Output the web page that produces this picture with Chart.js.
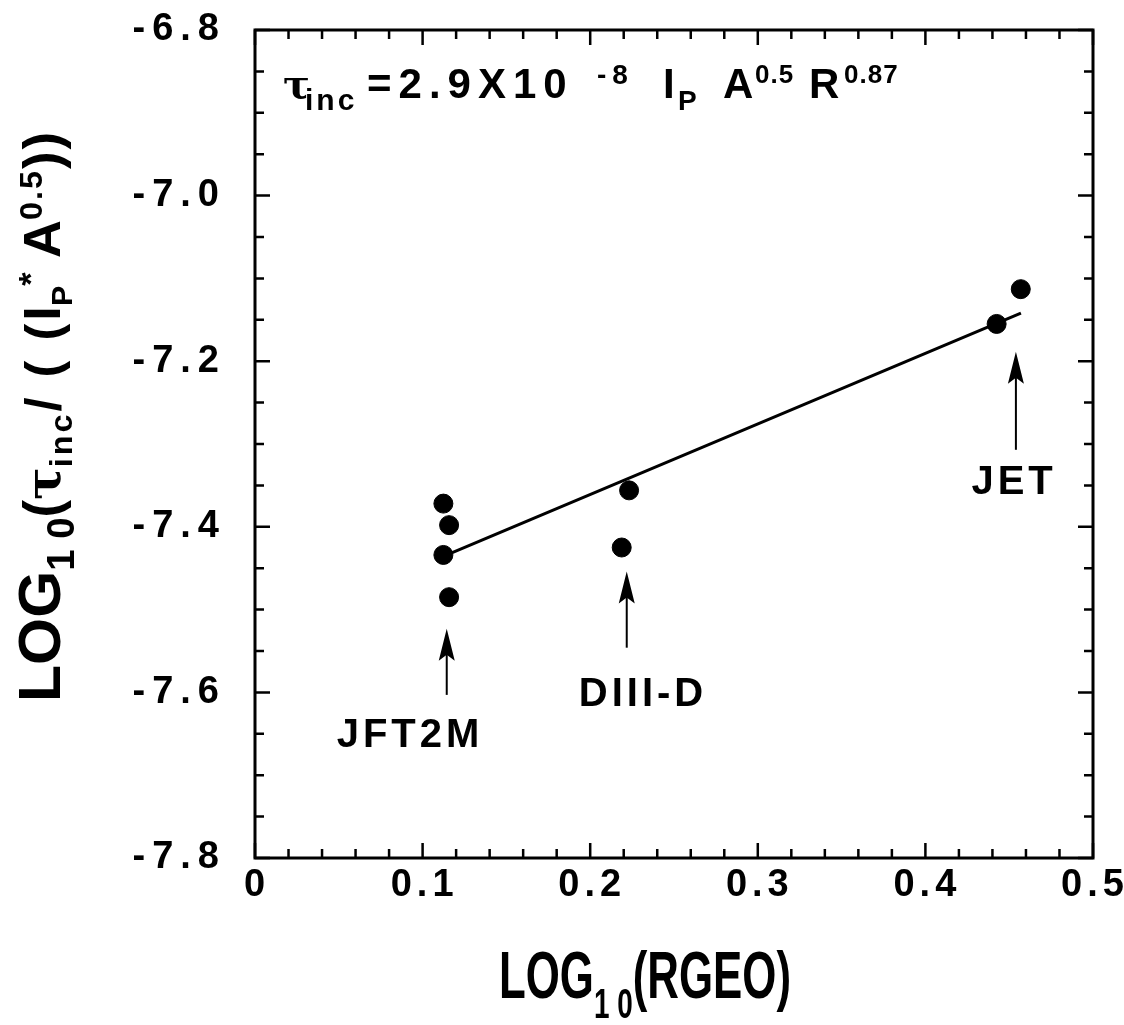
<!DOCTYPE html>
<html>
<head>
<meta charset="utf-8">
<script src="https://cdn.jsdelivr.net/npm/chart.js@4.4.1/dist/chart.umd.min.js"></script>
<style>
  html, body { margin: 0; background: #fff; }
  #wrap { width: 1124px; height: 1025px; }
</style>
</head>
<body>
<div id="wrap"><canvas id="c" width="1124" height="1025"></canvas></div>
<script>
// values
const jft2mX = [0.1124, 0.1158, 0.1124, 0.1158];
const jft2mY = [-7.372, -7.398, -7.434, -7.485];
const diiidX = [0.2232, 0.2188];
const diiidY = [-7.356, -7.425];
const jetX = [0.4569, 0.4425];
const jetY = [-7.113, -7.155];
// fitted line tau_inc = 2.9e-8 Ip A^0.5 R^0.87
const fitX = [0.112, 0.457];
const fitY = [-7.436, -7.142];

const xTicks = [0, 0.1, 0.2, 0.3, 0.4, 0.5];
const xLabels = ['0', '0.1', '0.2', '0.3', '0.4', '0.5'];
const yTicks = [-6.8, -7.0, -7.2, -7.4, -7.6, -7.8];
const yLabels = ['-6.8', '-7.0', '-7.2', '-7.4', '-7.6', '-7.8'];

const machines = ['JFT2M', 'DIII-D', 'JET'];
const labelX = [0.0925, 0.2315, 0.4529];
const labelY = [-7.649, -7.600, -7.343];
const arrowX = [0.1144, 0.2218, 0.4540];
const arrowTip = [-7.523, -7.454, -7.1885];
const arrowTail = [-7.603, -7.546, -7.307];

const FONT = '"Liberation Sans", Arial, Helvetica, sans-serif';
const SERIF = '"DejaVu Serif", "Liberation Serif", serif';

function pts(xs, ys) { return xs.map((x, i) => ({x: x, y: ys[i]})); }

function setFont(ctx, p) {
  ctx.font = 'bold ' + p.s + 'px ' + (p.f || FONT);
  ctx.letterSpacing = (p.ls || 0) + 'px';
}

// draws a run of text pieces (sub/superscripts); p.x gives a fixed start,
// otherwise the piece follows the previous one. width squeezes the run.
function rich(ctx, parts, x, y, align, width) {
  let w = 0;
  parts.forEach(p => { setFont(ctx, p); p.w = ctx.measureText(p.t).width; w += p.w; });
  const sx = width ? width / w : 1;
  ctx.save();
  ctx.translate(align === 'center' ? x - w * sx / 2 : x, y);
  ctx.scale(sx, 1);
  let cx = 0;
  parts.forEach(p => {
    setFont(ctx, p);
    if (p.x !== undefined) cx = p.x;
    ctx.fillText(p.t, cx, p.dy || 0);
    cx += p.w;
  });
  ctx.restore();
  ctx.letterSpacing = '0px';
}

const decor = {
  id: 'decor',
  afterDraw(chart) {
    const ctx = chart.ctx, xs = chart.scales.x, ys = chart.scales.y;
    const a = chart.chartArea;
    ctx.save();
    ctx.fillStyle = '#000';
    ctx.strokeStyle = '#000';

    // frame
    ctx.lineWidth = 3;
    ctx.strokeRect(a.left, a.top, a.right - a.left, a.bottom - a.top);

    // inward ticks on all four sides
    ctx.lineWidth = 2.5;
    ctx.beginPath();
    for (let i = 0; i <= 25; i++) {
      const px = xs.getPixelForValue(i * 0.02);
      const len = i % 5 === 0 ? 15 : 9;
      ctx.moveTo(px, a.bottom); ctx.lineTo(px, a.bottom - len);
      ctx.moveTo(px, a.top); ctx.lineTo(px, a.top + len);
    }
    for (let i = 0; i <= 20; i++) {
      const py = ys.getPixelForValue(-6.8 - i * 0.05);
      const len = i % 4 === 0 ? 15 : 9;
      ctx.moveTo(a.left, py); ctx.lineTo(a.left + len, py);
      ctx.moveTo(a.right, py); ctx.lineTo(a.right - len, py);
    }
    ctx.stroke();

    // tick labels
    ctx.textBaseline = 'middle';
    ctx.font = 'bold 38px ' + FONT;
    ctx.letterSpacing = '7px';
    ctx.textAlign = 'right';
    yTicks.forEach((v, i) => {
      ctx.fillText(yLabels[i], 226, ys.getPixelForValue(v));
    });
    ctx.letterSpacing = '5px';
    ctx.textAlign = 'center';
    xTicks.forEach((v, i) => {
      ctx.fillText(xLabels[i], xs.getPixelForValue(v) + 2, 886);
    });
    ctx.letterSpacing = '0px';

    // arrows
    ctx.lineWidth = 2;
    arrowX.forEach((v, i) => {
      const px = xs.getPixelForValue(v);
      const tip = ys.getPixelForValue(arrowTip[i]);
      const tail = ys.getPixelForValue(arrowTail[i]);
      ctx.beginPath();
      ctx.moveTo(px, tail); ctx.lineTo(px, tip + 20);
      ctx.stroke();
      ctx.beginPath();
      ctx.moveTo(px, tip); ctx.lineTo(px - 8, tip + 32); ctx.lineTo(px, tip + 26); ctx.lineTo(px + 8, tip + 32);
      ctx.closePath();
      ctx.fill();
    });

    // machine names
    ctx.textAlign = 'left';
    ctx.textBaseline = 'alphabetic';
    machines.forEach((m, i) => {
      rich(ctx, [{t: m, s: 40, ls: 4}], xs.getPixelForValue(labelX[i]), ys.getPixelForValue(labelY[i]) + 14, 'center');
    });

    // scaling law
    rich(ctx, [
      {t: '\u03c4', s: 40, f: SERIF, x: 0},
      {t: 'inc', s: 30, dy: 12, ls: 3, x: 22},
      {t: '=2.9X10', s: 42, ls: 7, x: 84},
      {t: '-8', s: 28, dy: -14, ls: 6, x: 314},
      {t: 'I', s: 42, x: 380},
      {t: 'P', s: 28, dy: 12, x: 395},
      {t: 'A', s: 42, x: 440},
      {t: '0.5', s: 26, dy: -15, ls: 1, x: 472},
      {t: 'R', s: 42, x: 526},
      {t: '0.87', s: 26, dy: -15, ls: 1, x: 561}
    ], 283, 98, 'left');

    // x axis title
    rich(ctx, [
      {t: 'LOG', s: 66},
      {t: '1 0', s: 42, dy: 20},
      {t: '(RGEO)', s: 66}
    ], 645, 998, 'center', 292);

    // y axis title (reads bottom to top)
    ctx.translate(0, 416);
    ctx.rotate(-Math.PI / 2);
    rich(ctx, [
      {t: 'LOG', s: 60},
      {t: '1 0', s: 38, dy: 14},
      {t: '(', s: 52},
      {t: '\u03c4', s: 48, f: SERIF},
      {t: 'inc', s: 32, dy: 12, ls: 3},
      {t: '/ ( (', s: 50, ls: 3},
      {t: 'I', s: 52},
      {t: 'P', s: 30, dy: 12},
      {t: '*', s: 34, dy: -18},
      {t: ' A', s: 52},
      {t: '0.5', s: 32, dy: -18, ls: 2},
      {t: '))', s: 52, ls: 2}
    ], 0, 60, 'center', 572);
    ctx.restore();
  }
};

new Chart(document.getElementById('c'), {
  type: 'scatter',
  data: {
    datasets: [
      {label: 'JFT2M', data: pts(jft2mX, jft2mY), backgroundColor: '#000', borderColor: '#000', pointRadius: 9.5},
      {label: 'DIII-D', data: pts(diiidX, diiidY), backgroundColor: '#000', borderColor: '#000', pointRadius: 9.5},
      {label: 'JET', data: pts(jetX, jetY), backgroundColor: '#000', borderColor: '#000', pointRadius: 9.5},
      {label: 'fit', data: pts(fitX, fitY), showLine: true, borderColor: '#000', borderWidth: 3, pointRadius: 0}
    ]
  },
  options: {
    responsive: false,
    animation: false,
    devicePixelRatio: 1,
    layout: {padding: {left: 255, right: 31, top: 30, bottom: 167}},
    plugins: {legend: {display: false}, tooltip: {enabled: false}},
    scales: {
      x: {type: 'linear', min: 0, max: 0.5, grid: {display: false, drawTicks: false}, border: {display: false}, ticks: {display: false}},
      y: {type: 'linear', min: -7.8, max: -6.8, grid: {display: false, drawTicks: false}, border: {display: false}, ticks: {display: false}}
    }
  },
  plugins: [decor]
});
</script>
</body>
</html>
